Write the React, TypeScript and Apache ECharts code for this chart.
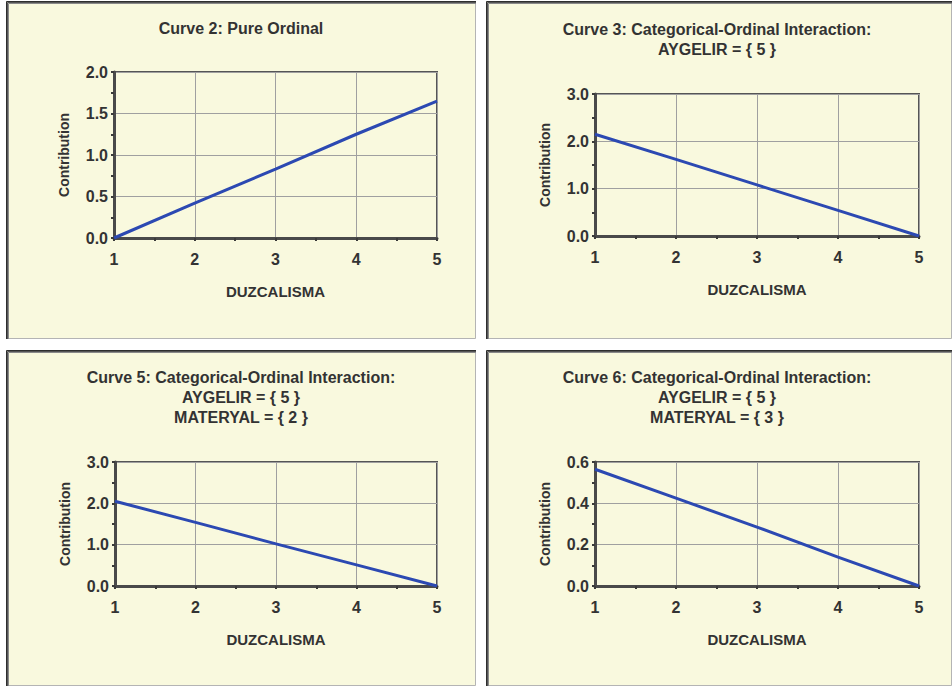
import React, { useEffect, useRef } from "react";
import * as echarts from "echarts";

const xValues = [1, 2, 3, 4, 5];
const curve2 = [0, 0.42, 0.83, 1.25, 1.65];
const curve3 = [2.15, 1.62, 1.08, 0.54, 0];
const curve5 = [2.05, 1.54, 1.02, 0.51, 0];
const curve6 = [0.565, 0.425, 0.285, 0.14, 0];
const seriesValues = [curve2, curve3, curve5, curve6];

const titleLines = [
  ["Curve 2: Pure Ordinal"],
  ["Curve 3: Categorical-Ordinal Interaction:", "AYGELIR = { 5 }"],
  ["Curve 5: Categorical-Ordinal Interaction:", "AYGELIR = { 5 }", "MATERYAL = { 2 }"],
  ["Curve 6: Categorical-Ordinal Interaction:", "AYGELIR = { 5 }", "MATERYAL = { 3 }"],
];
const yMaxes = [2, 3, 3, 0.6];
const yIntervals = [0.5, 1, 1, 0.2];
const xName = "DUZCALISMA";
const yName = "Contribution";

// layout (pixels)
const panels = [
  { x: 6, y: 1, w: 470, h: 338 },
  { x: 486, y: 1, w: 466, h: 338 },
  { x: 6, y: 350, w: 470, h: 336 },
  { x: 486, y: 350, w: 466, h: 336 },
];
const grids = [
  { left: 114, top: 72, width: 323, height: 166 },
  { left: 595, top: 94, width: 324, height: 142 },
  { left: 115, top: 462, width: 322, height: 124 },
  { left: 595, top: 462, width: 324, height: 124 },
];
const titleTops = [28, 29, 377, 377];
const titleCenters = [241, 717, 241, 717];

const FONT = "'Liberation Sans', Arial, sans-serif";
const BG = "#F9F9DE";
const TXT = "#333333";

export default function App() {
  const ref = useRef<HTMLDivElement>(null);
  useEffect(() => {
    if (!ref.current) return;
    const chart = echarts.init(ref.current, undefined, { renderer: "svg" });

    const graphic: any[] = [];
    panels.forEach((p) => {
      graphic.push({
        type: "rect",
        z: -10,
        shape: { x: p.x, y: p.y, width: p.w, height: p.h },
        style: { fill: BG },
      });
      const darks = ["#2e2e2e", "#555555", "#8a8a8a"];
      darks.forEach((c, i) => {
        graphic.push({
          type: "polyline",
          z: -9,
          shape: {
            points: [
              [p.x + i + 0.5, p.y + p.h],
              [p.x + i + 0.5, p.y + i + 0.5],
              [p.x + p.w, p.y + i + 0.5],
            ],
          },
          style: { stroke: c, lineWidth: 1, fill: null },
        });
      });
      graphic.push({
        type: "polyline",
        z: -9,
        shape: {
          points: [
            [p.x + 3, p.y + p.h - 0.5],
            [p.x + p.w - 0.5, p.y + p.h - 0.5],
            [p.x + p.w - 0.5, p.y + 3],
          ],
        },
        style: { stroke: "#b4b4b4", lineWidth: 1, fill: null },
      });
    });
    titleLines.forEach((lines, i) => {
      lines.forEach((t, j) => {
        graphic.push({
          type: "text",
          z: 5,
          x: titleCenters[i],
          y: titleTops[i] + j * 20,
          style: {
            text: t,
            font: `bold 16px ${FONT}`,
            fill: TXT,
            textAlign: "center",
            textVerticalAlign: "middle",
          },
        });
      });
    });

    const tickStyle = { color: "#3a3a3a", width: 2 };
    const option: any = {
      animation: false,
      backgroundColor: "#ffffff",
      graphic,
      grid: grids.map((g) => ({
        ...g,
        show: true,
        borderColor: "#555555",
        borderWidth: 2,
        backgroundColor: "transparent",
        containLabel: false,
      })),
      xAxis: grids.map((g, i) => ({
        type: "value",
        gridIndex: i,
        min: 1,
        max: 5,
        interval: 1,
        name: xName,
        nameLocation: "middle",
        nameGap: 46,
        nameTextStyle: { fontFamily: FONT, fontSize: 15, fontWeight: "bold", color: TXT },
        axisLine: { show: true, onZero: false, lineStyle: { color: "#4a4a4a", width: 3 } },
        axisTick: { show: true, length: 3, lineStyle: tickStyle },
        minorTick: { show: true, splitNumber: 2, length: 3, lineStyle: tickStyle },
        axisLabel: {
          margin: 13,
          fontFamily: FONT,
          fontSize: 16,
          fontWeight: "bold",
          color: TXT,
          formatter: (v: number) => String(Math.round(v)),
        },
        splitLine: { show: true, lineStyle: { color: "#a0a0a0", width: 1 } },
      })),
      yAxis: grids.map((g, i) => ({
        type: "value",
        gridIndex: i,
        min: 0,
        max: yMaxes[i],
        interval: yIntervals[i],
        name: yName,
        nameLocation: "middle",
        nameRotate: 90,
        nameGap: 43,
        nameTextStyle: { fontFamily: FONT, fontSize: 14, fontWeight: "bold", color: TXT },
        axisLine: { show: true, onZero: false, lineStyle: { color: "#4a4a4a", width: 3 } },
        axisTick: { show: true, length: 3, lineStyle: tickStyle },
        minorTick: { show: true, splitNumber: 2, length: 3, lineStyle: tickStyle },
        axisLabel: {
          margin: 6,
          fontFamily: FONT,
          fontSize: 16,
          fontWeight: "bold",
          color: TXT,
          formatter: (v: number) => v.toFixed(1),
        },
        splitLine: { show: true, lineStyle: { color: "#a0a0a0", width: 1 } },
      })),
      series: seriesValues.map((vals, i) => ({
        type: "line",
        xAxisIndex: i,
        yAxisIndex: i,
        data: xValues.map((x, k) => [x, vals[k]]),
        symbol: "none",
        lineStyle: { color: "#2c49b2", width: 3 },
        itemStyle: { color: "#2c49b2" },
        z: 3,
      })),
    };
    chart.setOption(option);
    return () => chart.dispose();
  }, []);
  return (
    <div
      ref={ref}
      style={{ position: "absolute", left: 0, top: 0, width: 952, height: 686 }}
    />
  );
}
